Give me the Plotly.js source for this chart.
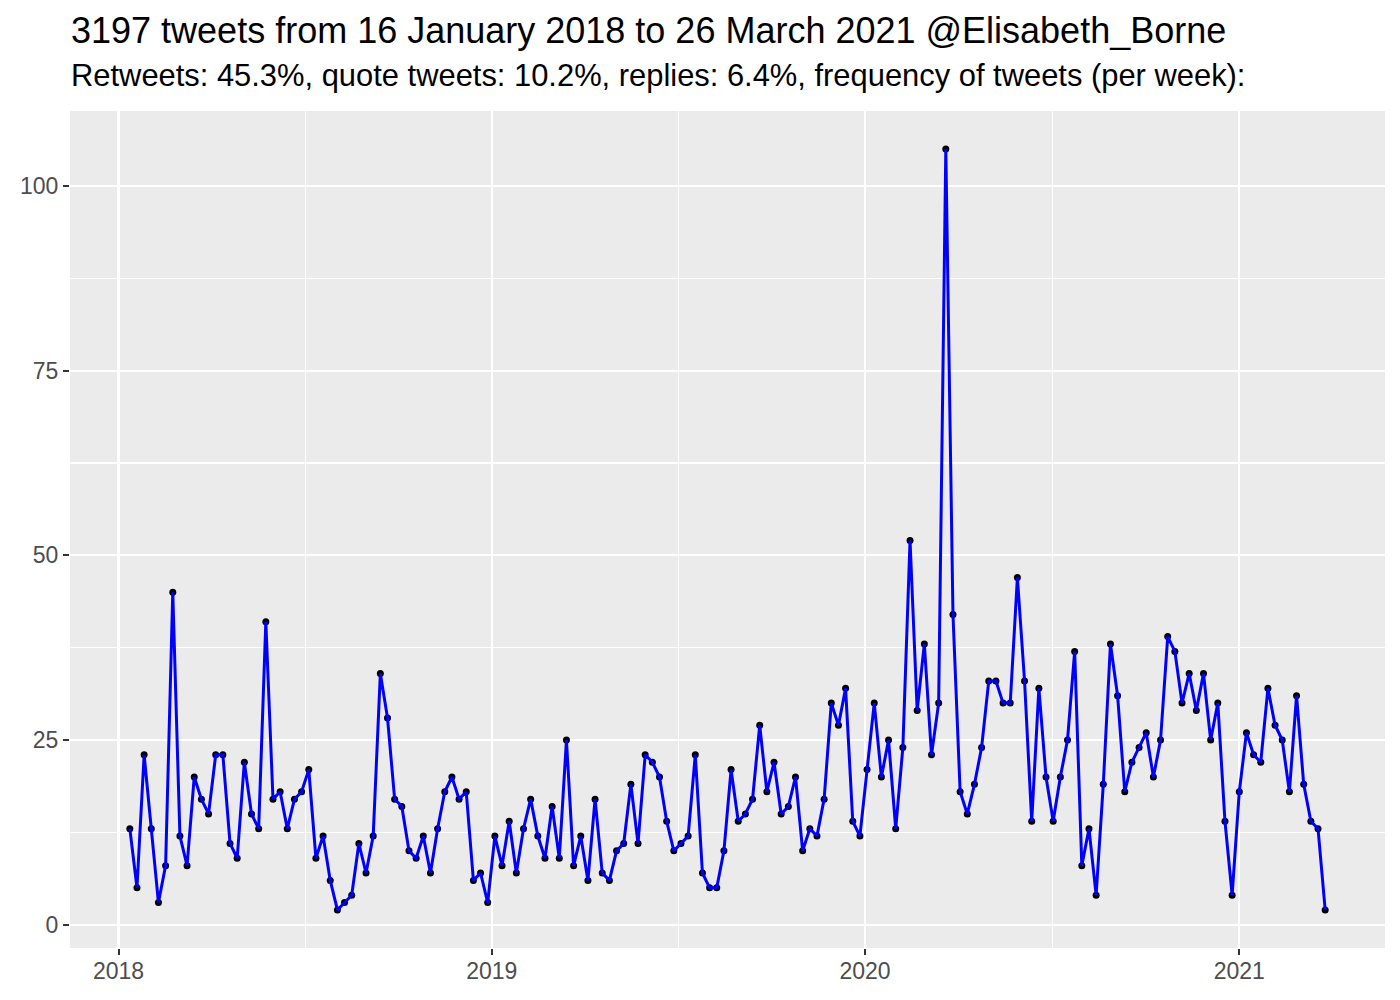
<!DOCTYPE html>
<html>
<head>
<meta charset="utf-8">
<script src="https://cdn.plot.ly/plotly-3.0.1.min.js"></script>
<style>html,body{margin:0;padding:0;background:#fff;}#chart{width:1400px;height:1000px;}</style>
</head>
<body>
<div id="chart"></div>
<script>
// Weekly tweet counts, first week starting 2018-01-12, last 2021-03-26
const firstWeek = '2018-01-12';
const tweetsPerWeek = [
  13,5,23,13,3,8,45,12,8,20,
  17,15,23,23,11,9,22,15,13,41,
  17,18,13,17,18,21,9,12,6,2,
  3,4,11,7,12,34,28,17,16,10,
  9,12,7,13,18,20,17,18,6,7,
  3,12,8,14,7,13,17,12,9,16,
  9,25,8,12,6,17,7,6,10,11,
  19,11,23,22,20,14,10,11,12,23,
  7,5,5,10,21,14,15,17,27,18,
  22,15,16,20,10,13,12,17,30,27,
  32,14,12,21,30,20,25,13,24,52,
  29,38,23,30,105,42,18,15,19,24,
  33,33,30,30,47,33,14,32,20,14,
  20,25,37,8,13,4,19,38,31,18,
  22,24,26,20,25,39,37,30,34,29,
  34,25,30,14,4,18,26,23,22,32,
  27,25,18,31,19,14,13,2
];
const xTickVals = ['2018-01-01','2019-01-01','2020-01-01','2021-01-01'];
const xTickText = ['2018','2019','2020','2021'];
const xMinorVals = ['2018-07-02 12:00','2019-07-02 12:00','2020-07-02 12:00'];
const yTickVals = [0,25,50,75,100];
const yMinorVals = [12.5,37.5,62.5,87.5];
const titleText = '3197 tweets from 16 January 2018 to 26 March 2021 @Elisabeth_Borne';
const subtitleText = 'Retweets: 45.3%, quote tweets: 10.2%, replies: 6.4%, frequency of tweets (per week):';

// week dates (one per value)
const weekDates = tweetsPerWeek.map((_, i) => {
  const d = new Date(firstWeek + 'T00:00:00Z');
  d.setUTCDate(d.getUTCDate() + 7 * i);
  return d.toISOString().slice(0, 10);
});

const FONT = 'Liberation Sans, Arial, Helvetica, sans-serif';

const traces = [
  {
    x: weekDates, y: tweetsPerWeek, type: 'scatter', mode: 'markers',
    marker: {color: '#000000', size: 7}, hoverinfo: 'x+y', showlegend: false
  },
  {
    x: weekDates, y: tweetsPerWeek, type: 'scatter', mode: 'lines',
    line: {color: '#0000FF', width: 3}, hoverinfo: 'skip', showlegend: false
  }
];

const layout = {
  width: 1400, height: 1000,
  paper_bgcolor: '#FFFFFF', plot_bgcolor: '#EBEBEB',
  margin: {l: 70, r: 15, t: 111, b: 52},
  font: {family: FONT, color: '#4D4D4D'},
  showlegend: false,
  xaxis: {
    type: 'date',
    range: ['2017-11-14 12:00', '2021-05-23 12:00'],
    tickmode: 'array', tickvals: xTickVals, ticktext: xTickText,
    showgrid: true, gridcolor: '#FFFFFF', gridwidth: 2.2,
    zeroline: false, showline: false,
    ticks: 'outside', ticklen: 6, tickwidth: 2, tickcolor: '#333333',
    ticklabelstandoff: -4,
    tickfont: {size: 23, color: '#4D4D4D', family: FONT},
    minor: {tickmode: 'array', tickvals: xMinorVals, showgrid: true, gridcolor: '#FFFFFF', gridwidth: 1.1, ticks: ''}
  },
  yaxis: {
    range: [-3.15, 110.15],
    tickmode: 'array', tickvals: yTickVals,
    showgrid: true, gridcolor: '#FFFFFF', gridwidth: 2.2,
    zeroline: false, showline: false,
    ticks: 'outside', ticklen: 6, tickwidth: 2, tickcolor: '#333333',
    tickfont: {size: 23, color: '#4D4D4D', family: FONT},
    minor: {tickmode: 'array', tickvals: yMinorVals, showgrid: true, gridcolor: '#FFFFFF', gridwidth: 1.1, ticks: ''}
  },
  annotations: [
    {
      text: titleText, xref: 'paper', yref: 'paper', x: 0, y: 1.096,
      xanchor: 'left', yanchor: 'middle', showarrow: false, xshift: -1,
      font: {family: FONT, size: 36, color: '#000000'}
    },
    {
      text: subtitleText, xref: 'paper', yref: 'paper', x: 0, y: 1.042,
      xanchor: 'left', yanchor: 'middle', showarrow: false, xshift: -1,
      font: {family: FONT, size: 30.9, color: '#000000'}
    }
  ]
};

Plotly.newPlot('chart', traces, layout, {displayModeBar: false, staticPlot: true});
</script>
</body>
</html>
